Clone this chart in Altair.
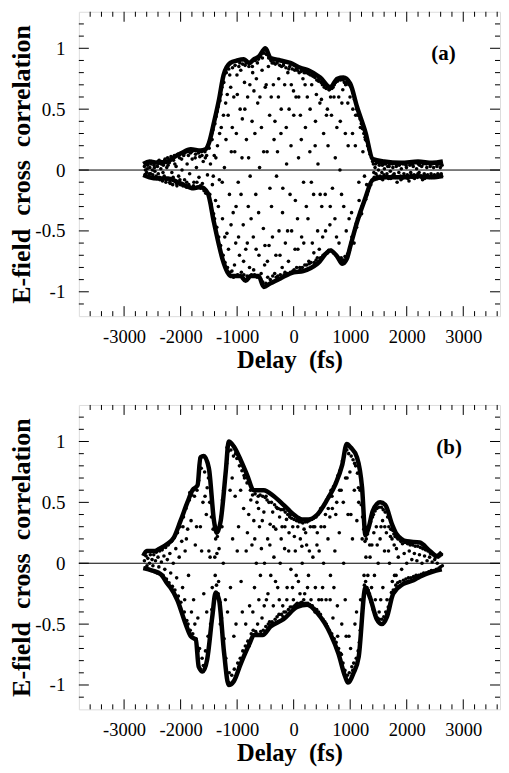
import altair as alt
import pandas as pd

# ---------------- axis ranges / ticks ----------------
X_DOMAIN = [-3800, 3650]
Y_DOMAIN = [-1.2, 1.3]
X_LABELS = [-3000, -2000, -1000, 0, 1000, 2000, 3000]
X_MINOR = [v for v in range(-3600, 3700, 200) if v % 1000 != 0]
Y_LABELS = [-1, -0.5, 0, 0.5, 1]
Y_MINOR = [-1.1, -0.9, -0.8, -0.7, -0.6, -0.4, -0.3, -0.2, -0.1,
           0.1, 0.2, 0.3, 0.4, 0.6, 0.7, 0.8, 0.9, 1.1, 1.2]

# ---------------- panel (a) envelope ----------------
UA_X = [-2660, -2550, -2400, -2230, -2100, -2000, -1820, -1650, -1560, -1500, -1410, -1320,
        -1240, -1120, -1000, -880, -790, -700, -620, -500, -410, -235, -60, 120, 260, 470,
        650, 770, 880, 1000, 1120, 1270, 1400, 1600, 1900, 2200, 2450, 2640]
UA_Y = [0.05, 0.07, 0.06, 0.07, 0.11, 0.135, 0.17, 0.16, 0.17, 0.22, 0.39, 0.58,
        0.78, 0.88, 0.9, 0.91, 0.88, 0.91, 0.93, 1.0, 0.92, 0.9, 0.88, 0.84, 0.82, 0.76,
        0.68, 0.75, 0.76, 0.71, 0.52, 0.31, 0.09, 0.07, 0.06, 0.07, 0.06, 0.07]
LA_X = [-2660, -2550, -2400, -2230, -2000, -1770, -1650, -1520, -1410, -1320, -1260, -1170,
        -1120, -940, -850, -760, -620, -530, -410, -235, 0, 170, 420, 650, 770, 860, 940,
        1000, 1120, 1260, 1400, 1600, 1900, 2200, 2450, 2640]
LA_Y = [-0.04, -0.06, -0.07, -0.07, -0.11, -0.15, -0.14, -0.19, -0.43, -0.62, -0.73, -0.84,
        -0.87, -0.87, -0.91, -0.87, -0.87, -0.96, -0.93, -0.89, -0.84, -0.83, -0.77, -0.66,
        -0.71, -0.77, -0.73, -0.63, -0.43, -0.24, -0.08, -0.06, -0.06, -0.05, -0.06, -0.05]

# ---------------- panel (a) samples ----------------
DOTS_A_LEFT = [(-2640,0.03),(-2630,-0.04),(-2615,0.06),(-2600,-0.02),(-2590,0.01),(-2575,0.05),(-2560,-0.05),(-2545,0.02),(-2530,-0.03),(-2515,0.07),(-2500,0.0),(-2485,-0.06),(-2470,0.04),(-2455,-0.01),(-2440,0.06),(-2425,-0.07),(-2410,0.03),(-2395,-0.03),(-2380,0.08),(-2365,-0.08),(-2350,0.01),(-2335,0.07),(-2320,-0.09),(-2305,0.04),(-2290,-0.05),(-2275,0.09),(-2260,-0.1),(-2245,0.02),(-2230,0.1),(-2215,-0.07),(-2200,0.06),(-2185,-0.11),(-2170,0.11),(-2155,-0.02),(-2140,-0.12),(-2125,0.08),(-2110,0.12),(-2095,-0.09),(-2080,0.03),(-2065,-0.13),(-2050,0.13),(-2035,-0.05),(-2020,0.1),(-2005,-0.12),(-1990,0.14),(-1975,0.0),(-1960,-0.13),(-1945,0.12),(-1930,-0.08),(-1915,0.15),(-1900,-0.14),(-1885,0.05),(-1870,0.15),(-1855,-0.12),(-1840,-0.03),(-1825,0.14),(-1810,-0.15),(-1795,0.09),(-1780,0.16),(-1765,-0.1),(-1750,-0.15),(-1735,0.13),(-1720,0.02),(-1705,-0.14),(-1690,0.16),(-1675,-0.06),(-1660,0.11),(-1645,-0.15),(-1630,0.15),(-1615,-0.11),(-1600,0.07),(-1585,-0.17),(-1570,0.15),(-1555,-0.19),(-1540,0.12),(-1525,-0.04)]
DOTS_A_MAIN = [(-1495,0.18),(-1484,-0.2),(-1472,0.05),(-1461,-0.28),(-1450,0.3),(-1438,-0.12),(-1427,0.33),(-1416,-0.36),(-1405,0.12),
 (-1393,0.38),(-1382,-0.25),(-1371,0.44),(-1360,-0.47),(-1348,0.2),(-1337,0.52),(-1326,-0.55),(-1315,-0.08),(-1304,0.57),
 (-1292,-0.62),(-1281,0.35),(-1270,0.68),(-1259,-0.4),(-1247,-0.7),(-1236,0.72),(-1225,0.02),(-1214,-0.76),(-1203,0.55),
 (-1192,0.8),(-1181,-0.52),(-1170,-0.8),(-1159,0.45),(-1147,0.83),(-1136,-0.2),(-1125,-0.84),(-1114,0.68),(-1103,0.15),
 (-1092,-0.83),(-1081,0.84),(-1070,-0.35),(-1059,0.6),(-1047,-0.78),(-1036,0.86),(-1025,-0.6),(-1014,0.3),(-1003,0.78),
 (-992,-0.86),(-981,-0.1),(-970,0.85),(-959,-0.7),(-947,0.5),(-936,0.82),(-925,-0.84),(-914,0.1),(-903,0.87),
 (-892,-0.45),(-881,-0.86),(-870,0.72),(-859,0.86),(-847,-0.65),(-836,0.25),(-825,-0.87),(-814,0.6),(-803,-0.3),
 (-792,0.85),(-781,-0.8),(-770,-0.05),(-759,0.88),(-747,-0.86),(-736,0.4),(-725,0.8),(-714,-0.55),(-703,0.65),
 (-692,-0.86),(-681,0.9),(-670,-0.2),(-659,0.75),(-647,-0.88),(-636,0.55),(-625,0.91),(-614,-0.7),(-603,0.02),
 (-592,0.93),(-581,-0.9),(-570,0.35),(-559,0.82),(-547,-0.92),(-536,-0.48),(-525,0.96),(-514,-0.78),(-503,0.68),
 (-492,-0.93),(-481,0.95),(-470,0.15),(-459,-0.88),(-447,0.85),(-436,-0.62),(-425,0.45),(-414,-0.9),(-403,0.9),
 (-392,-0.3),(-381,0.88),(-370,-0.87),(-359,0.7),(-347,0.25),(-336,-0.85),(-325,0.87),(-314,-0.7),(-303,-0.05),
 (-292,0.88),(-281,-0.87),(-270,0.6),(-259,-0.5),(-247,0.86),(-236,-0.86),(-225,0.3),(-214,0.85),(-203,-0.8),
 (-192,-0.15),(-181,0.86),(-170,-0.86),(-159,0.7),(-147,-0.6),(-136,0.84),(-125,0.05),(-114,-0.85),(-103,0.8),
 (-92,-0.75),(-81,0.5),(-70,0.85),(-59,-0.84),(-47,0.2),(-36,-0.5),(-25,0.83),(-14,-0.83),(-3,0.65),
 (8,-0.82),(19,0.82),(30,-0.25),(41,0.6),(53,-0.8),(64,0.82),(75,-0.65),(86,0.1),(97,0.8),
 (108,-0.8),(119,0.45),(130,0.81),(141,-0.55),(153,-0.8),(164,0.75),(175,-0.1),(186,0.8),(197,-0.78),
 (208,0.35),(219,0.8),(230,-0.78),(241,0.6),(253,-0.4),(264,0.79),(275,-0.77),(286,0.15),(297,0.78),
 (308,-0.76),(319,0.7),(330,-0.6),(341,0.77),(353,-0.2),(364,-0.76),(375,0.76),(386,0.4),(397,-0.74),
 (408,0.74),(419,-0.72),(430,0.05),(441,0.73),(453,-0.65),(464,0.55),(475,-0.72),(486,0.72),(497,-0.3),
 (508,0.7),(519,-0.7),(530,0.3),(541,0.68),(553,-0.69),(564,-0.5),(575,0.67),(586,-0.68),(597,0.5),
 (608,0.2),(619,-0.66),(630,0.66),(641,-0.45),(653,0.6),(664,-0.66),(675,0.67),(686,-0.15),(697,0.68),
 (708,-0.68),(719,0.7),(730,-0.4),(741,0.72),(753,-0.7),(764,0.35),(775,0.73),(786,-0.72),(797,0.6),
 (808,-0.73),(819,0.0),(830,0.74),(841,-0.72),(853,0.55),(864,-0.74),(875,0.74),(886,-0.3),(897,0.72),
 (908,-0.71),(919,0.7),(930,-0.5),(941,0.72),(953,-0.69),(964,0.2),(975,0.7),(986,-0.66),(997,0.6),
 (1008,-0.6),(1019,0.68),(1030,-0.55),(1041,0.3),(1053,0.63),(1064,-0.52),(1075,0.58),(1086,-0.48),(1097,0.45),
 (1108,-0.44),(1119,0.5),(1130,-0.4),(1141,0.46),(1153,-0.1),(1164,-0.38),(1175,0.42),(1186,-0.35),(1197,0.38),
 (1208,-0.3),(1219,0.34),(1230,-0.28),(1241,0.3),(1253,-0.05),(1264,0.27),(1275,-0.24),(1286,0.24),(1297,-0.2),
 (1308,0.2),(1319,-0.17),(1330,0.17),(1341,-0.14),(1353,0.13),(1364,-0.12),(1375,0.1),(1386,-0.09),(1397,0.07)]
DOTS_A_EXTRA = [(-1443,0.25),(-1422,-0.05),(-1399,-0.4),(-1376,0.1),(-1354,0.48),(-1332,-0.3),(-1310,0.3),
 (-1286,0.62),(-1264,-0.1),(-1242,0.45),(-1219,-0.55),(-1197,0.25),(-1175,0.62),(-1153,-0.65),(-1131,0.78),(-1108,-0.45),
 (-1086,0.35),(-1064,-0.88),(-1042,0.15),(-1019,-0.3),(-997,0.62),(-975,-0.55),(-953,0.88),(-931,-0.2),(-908,0.42),(-886,-0.75),(-864,0.5),(-842,0.88),(-820,-0.6),(-797,0.1),(-775,0.7),(-753,-0.4),(-731,0.85),(-708,-0.82),(-686,0.3),(-664,-0.65),(-642,0.88),(-620,-0.35),(-597,0.6),(-575,-0.85),(-553,0.92),(-531,0.15),(-508,-0.62),
 (-486,0.7),(-464,-0.75),(-442,0.92),(-420,-0.15),(-397,0.6),(-375,-0.55),(-353,0.88),(-331,0.4),(-308,-0.88),(-286,0.15),(-264,0.75),(-242,-0.7),(-220,0.5),(-197,-0.35),(-175,0.88),(-153,-0.84),(-131,0.35),(-108,-0.5),(-86,0.83),(-64,-0.2),(-42,0.7),(-20,-0.84),
 (2,0.45),(24,-0.65),(46,0.83),(68,-0.4),(90,0.6),(113,-0.82),(135,0.25),(157,0.82),(179,-0.6),(202,0.7),(224,-0.3),(246,0.8),(268,-0.75),(291,0.5),(313,-0.1),(335,0.78),(357,-0.68),(380,0.2),(402,0.62),(424,-0.5),(447,0.75),(469,-0.2),(491,0.58),
 (513,-0.55),(535,0.7),(558,-0.2),(580,0.45),(602,-0.68),(624,0.66),(647,-0.3),(669,0.45),(691,-0.67),(713,0.6),(736,0.1),(758,-0.55),(780,0.74),(802,-0.6),(825,0.4),(847,-0.2),(869,0.66),(891,-0.74),(914,0.3),(936,-0.72),(958,0.55),(980,-0.4),
 (1002,0.7),(1024,-0.35),(1047,0.5),(1069,-0.6),(1091,0.2),(1113,-0.47),(1136,0.45),(1158,-0.25),(1180,0.35),(1202,-0.36),(1225,0.15),(1247,-0.26),(1269,0.25),(1291,-0.12)]
DOTS_A_TAILS = [(-2622,0.0),(-2583,0.04),(-2552,-0.03),(-2522,0.05),(-2492,-0.04),(-2462,0.02),(-2432,-0.05),(-2402,0.07),(-2372,-0.06),(-2342,0.05),(-2312,-0.02),(-2282,0.08),(-2252,-0.08),(-2222,0.04),(-2192,-0.1),(-2162,0.1),(-2132,-0.06),(-2102,0.05),(-2072,-0.11),(-2042,0.12),(-2012,-0.08),(-1982,0.09),(-1952,-0.12),(-1922,0.14),(-1892,-0.1),(-1862,0.12),(-1832,-0.14),(-1802,0.15),(-1772,-0.13),(-1742,0.1),(-1712,-0.1),(-1682,0.14),(-1652,-0.13),(-1622,0.12),(-1592,-0.15),(-1562,0.1),
 (1418,-0.02),(1448,0.05),(1478,-0.05),(1508,0.06),(1538,-0.07),(1568,0.04),(1598,-0.04),(1628,0.05),(1658,-0.06),(1688,0.03),(1718,-0.07),(1748,0.05),(1778,-0.03),(1808,0.05),(1838,-0.06),(1868,0.04),(1898,-0.08),(1928,0.06),(1958,-0.05),(1988,0.04),(2018,-0.07),(2048,0.06),(2078,-0.04),(2108,0.05),(2138,-0.07),(2168,0.06),(2198,-0.03),(2228,0.04),(2258,-0.06),(2288,0.06),(2318,-0.07),(2348,0.05),(2378,-0.05),(2408,0.05),(2438,-0.06),(2468,0.06),(2498,-0.05),(2528,0.05),(2558,-0.04),(2588,0.05),(2618,-0.05)]
DOTS_A_RIGHT = [(1410,0.05),(1425,-0.06),(1440,0.02),(1455,-0.03),(1470,0.06),(1485,-0.07),(1500,0.0),(1515,0.04),(1530,-0.05),(1545,0.06),(1560,-0.02),(1575,-0.08),(1590,0.05),(1605,0.01),(1620,-0.06),(1635,0.06),(1650,-0.03),(1665,0.03),(1680,-0.07),(1695,0.05),(1710,-0.01),(1725,0.06),(1740,-0.05),(1755,0.02),(1770,-0.04),(1785,0.06),(1800,-0.06),(1815,0.03),(1830,-0.1),(1845,0.05),(1860,-0.02),(1875,0.06),(1890,-0.05),(1905,0.01),(1920,-0.07),(1935,0.05),(1950,-0.03),(1965,0.06),(1980,-0.06),(1995,0.02),(2010,-0.04),(2025,0.06),(2040,-0.09),(2055,0.04),(2070,-0.02),(2085,0.05),(2100,-0.06),(2115,0.03),(2130,-0.04),(2145,0.06),(2160,-0.05),(2175,0.01),(2190,-0.06),(2205,0.05),(2220,-0.02),(2235,0.06),(2250,-0.05),(2265,0.03),(2280,-0.08),(2295,0.05),(2310,-0.03),(2325,0.06),(2340,-0.05),(2355,0.02),(2370,-0.04),(2385,0.06),(2400,-0.06),(2415,0.03),(2430,-0.03),(2445,0.05),(2460,-0.05),(2475,0.02),(2490,-0.04),(2505,0.06),(2520,-0.05),(2535,0.03),(2550,-0.03),(2565,0.05),(2580,-0.05),(2595,0.02),(2610,-0.03),(2625,0.04)]

# ---------------- panel (b) envelope ----------------
UB_X = [-2660, -2600, -2450, -2410, -2230, -2120, -2000, -1880, -1790, -1700, -1650, -1590,
        -1500, -1410, -1360, -1290, -1200, -1150, -1060, -940, -820, -710, -530, -350, -180,
        0, 150, 260, 420, 590, 740, 860, 940, 1010, 1120, 1210, 1270, 1330, 1400, 1530, 1620,
        1740, 1820, 2000, 2230, 2410, 2530, 2620]
UB_Y = [0.06, 0.1, 0.1, 0.11, 0.16, 0.21, 0.35, 0.5, 0.6, 0.64, 0.87, 0.88,
        0.78, 0.35, 0.25, 0.35, 0.76, 1.0, 0.96, 0.85, 0.72, 0.6, 0.6, 0.55, 0.48,
        0.4, 0.36, 0.36, 0.4, 0.52, 0.65, 0.81, 0.98, 0.95, 0.87, 0.62, 0.23, 0.3, 0.43, 0.5, 0.48,
        0.32, 0.24, 0.18, 0.17, 0.1, 0.06, 0.09]
LB_X = [-2660, -2500, -2350, -2230, -2180, -2060, -1910, -1820, -1730, -1680, -1610, -1530,
        -1440, -1380, -1320, -1230, -1150, -1060, -940, -790, -700, -550, -410, -180, 60, 240,
        420, 650, 790, 910, 960, 1060, 1150, 1270, 1350, 1470, 1560, 1650, 1760, 1940, 2120,
        2230, 2450, 2620]
LB_Y = [-0.04, -0.06, -0.09, -0.17, -0.2, -0.3, -0.5, -0.6, -0.63, -0.85, -0.89, -0.79,
        -0.44, -0.24, -0.3, -0.74, -1.0, -0.97, -0.83, -0.67, -0.59, -0.59, -0.52, -0.46, -0.36, -0.34,
        -0.41, -0.58, -0.74, -0.93, -0.98, -0.9, -0.77, -0.2, -0.28, -0.46, -0.5, -0.44, -0.25, -0.17, -0.14,
        -0.11, -0.07, -0.05]

# ---------------- panel (b) samples ----------------
DOTS_B_LEFT = [(-2640,0.02),(-2625,-0.04),(-2610,0.06),(-2595,-0.02),(-2580,0.04),(-2565,-0.05),(-2550,0.0),(-2535,0.07),(-2520,-0.06),(-2505,0.03),(-2490,-0.02),(-2475,0.07),(-2460,-0.07),(-2445,0.02),(-2430,0.09),(-2415,-0.08),(-2400,0.05),(-2385,-0.03),(-2370,0.1),(-2355,-0.09),(-2340,0.01),(-2325,0.11),(-2310,-0.1),(-2295,0.06),(-2280,-0.05),(-2265,0.13),(-2250,-0.13),(-2235,0.03),(-2220,0.15),(-2205,-0.16),(-2190,0.08),(-2175,-0.08),(-2160,0.18),(-2145,-0.19),(-2130,0.0),(-2115,0.21),(-2100,-0.22),(-2085,0.12),(-2070,-0.12),(-2055,0.25),(-2040,-0.27),(-2025,0.05),(-2010,0.3),(-1995,-0.32),(-1980,0.18)]
DOTS_B_MAIN = [(-1965,-0.2),(-1950,0.38),(-1935,-0.4),(-1920,0.1),(-1905,0.45),(-1890,-0.47),(-1875,0.28),(-1860,-0.1),(-1845,0.52),(-1830,-0.55),(-1815,0.35),(-1800,0.56),(-1785,-0.58),(-1770,-0.3),(-1755,0.55),(-1740,0.15),(-1725,-0.62),(-1710,0.6),(-1695,-0.45),(-1680,0.68),(-1665,-0.7),(-1650,0.3),(-1635,0.78),(-1620,-0.78),(-1605,0.5),(-1590,-0.25),(-1575,0.75),(-1560,-0.72),(-1545,0.4),(-1530,0.62),(-1515,-0.6),(-1500,0.1),(-1485,0.5),(-1470,-0.5),(-1455,0.38),(-1440,-0.2),(-1425,0.28),(-1410,-0.3),(-1395,0.05),(-1380,0.2),(-1365,-0.18),(-1350,0.22),(-1335,-0.25),(-1320,0.12),(-1305,-0.32),(-1290,0.38),(-1275,-0.45),(-1260,0.52),(-1245,0.0),(-1230,-0.62),(-1215,0.7),(-1200,-0.78),(-1185,0.82),(-1170,-0.4),(-1155,0.92),(-1140,-0.9),(-1125,0.6),(-1110,0.93),(-1095,-0.92),(-1080,0.2),(-1065,0.88),(-1050,-0.87),(-1035,0.55),(-1020,-0.5),(-1005,0.86),(-990,-0.82),(-975,0.3),(-960,0.8),(-945,-0.78),(-930,-0.15),(-915,0.76),(-900,-0.72),(-885,0.45),(-870,0.7),(-855,-0.68),(-840,0.1),(-825,0.66),(-810,-0.64),(-795,0.4),(-780,-0.35),(-765,0.6),(-750,-0.58),
 (-738,0.15),(-727,0.56),(-716,-0.55),(-705,0.35),(-693,-0.2),(-682,0.57),(-671,-0.56),(-660,0.0),(-649,0.5),
 (-638,-0.5),(-627,0.55),(-616,-0.3),(-605,0.3),(-593,0.56),(-582,-0.56),(-571,0.12),(-560,-0.45),(-549,0.55),
 (-538,-0.55),(-527,0.42),(-516,0.0),(-505,0.54),(-493,-0.52),(-482,-0.3),(-471,0.52),(-460,0.2),(-449,-0.5),
 (-438,0.5),(-427,-0.48),(-416,0.32),(-405,-0.1),(-393,0.5),(-382,-0.48),(-371,0.42),(-360,-0.35),(-349,0.05),
 (-338,0.48),(-327,-0.46),(-316,0.28),(-305,0.46),(-293,-0.44),(-282,-0.2),(-271,0.45),(-260,-0.42),(-249,0.38),
 (-238,0.0),(-227,0.44),(-216,-0.42),(-205,0.3),(-193,-0.35),(-182,0.44),(-171,-0.4),(-160,0.12),(-149,0.42),
 (-138,-0.4),(-127,0.36),(-116,-0.2),(-105,0.4),(-93,-0.38),(-82,0.25),(-71,0.38),(-60,-0.36),(-49,-0.05),
 (-38,0.37),(-27,-0.36),(-16,0.3),(-5,-0.3),(7,0.36),(18,-0.35),(29,0.1),(40,-0.34),(51,0.35),
 (62,-0.33),(73,0.3),(84,-0.15),(95,0.34),(107,-0.33),(118,0.2),(129,0.34),(140,-0.32),(151,0.0),
 (162,0.33),(173,-0.33),(184,0.28),(195,-0.25),(207,0.34),(218,-0.33),(229,0.15),(240,0.34),(251,-0.33),
 (262,-0.1),(273,0.35),(284,-0.34),(295,0.3),(307,-0.3),(318,0.36),(329,-0.35),(340,0.05),(351,0.37),
 (362,-0.37),(373,0.3),(384,-0.2),(395,0.38),(407,-0.38),(418,0.25),(429,0.4),(440,-0.4),(451,0.1),
 (462,0.42),(473,-0.42),(484,0.3),(495,-0.3),(507,0.46),(518,-0.46),(529,0.0),(540,0.48),(551,-0.48),
 (562,0.4),(573,-0.3),(584,0.52),(595,-0.52),(607,0.2),(618,0.55),(629,-0.55),(640,0.38),(651,-0.1),
 (662,0.6),(673,-0.58),(684,0.45),(695,-0.45),(707,0.63),(718,-0.62),(729,0.1),(740,0.66),(751,-0.65),
 (762,0.5),(773,-0.35),(784,0.72),(795,-0.7),(807,0.25),(818,0.76),(829,-0.74),(840,0.6),(851,-0.5),
 (862,0.84),(873,-0.82),(884,0.0),(895,0.88),(907,-0.88),(918,0.7),(929,-0.6),(940,0.93),(951,-0.92),
 (962,0.4),(973,0.9),(984,-0.9),(995,0.75),(1007,-0.7),(1018,0.88),(1029,-0.85),(1040,0.2),(1051,0.85),
 (1062,-0.82),(1073,0.6),(1084,-0.5),(1095,0.8),(1107,-0.78),(1118,0.35),(1129,0.74),(1140,-0.72),(1151,0.5),
 (1162,-0.65),(1173,0.6),(1184,-0.3),(1195,0.48),(1207,-0.42),(1218,0.38),(1229,-0.3),(1240,0.28),(1251,-0.18),
 (1262,0.18),(1273,-0.15),(1284,0.2),(1295,-0.2),(1307,0.24),(1318,-0.22),(1329,0.3),(1340,-0.25),(1351,0.05),
 (1362,0.34),(1373,-0.32),(1384,0.15),(1395,0.38),(1407,-0.38),(1418,0.25),(1429,-0.1),(1440,0.43),(1451,-0.42),
 (1462,0.3),(1473,0.45),(1484,-0.45),(1495,0.0),(1507,0.46),(1518,-0.46),(1529,0.2),(1540,-0.3),(1551,0.46),
 (1562,-0.46),(1573,0.35),(1584,0.44),(1595,-0.44),(1607,0.1),(1618,0.42),(1629,-0.4),(1640,0.25),(1651,-0.3),
 (1662,0.38),(1673,-0.36),(1684,0.3),(1695,0.0),(1707,-0.3),(1718,0.28),(1729,-0.24),(1740,0.2),(1751,0.27),
 (1762,-0.22),(1773,0.24),(1784,-0.1),(1795,0.22),(1807,-0.18),(1818,0.12),(1829,0.21),(1840,-0.16),(1851,0.05)]
DOTS_B_EXTRA = [(-1958,0.3),(-1928,-0.3),(-1898,0.2),(-1868,-0.5),(-1838,0.58),(-1808,-0.4),(-1778,0.6),(-1748,-0.5),(-1718,0.3),(-1688,-0.72),(-1658,0.86),(-1628,0.1),(-1598,-0.84),(-1568,0.55),(-1538,-0.4),(-1508,0.7),(-1478,0.05),(-1448,-0.38),
 (-1388,-0.1),(-1358,0.08),(-1328,-0.15),(-1298,-0.5),(-1268,0.3),(-1238,0.6),(-1208,-0.3),(-1178,0.95),(-1148,-0.98),(-1118,-0.2),(-1088,0.7),(-1058,-0.6),(-1028,0.9),(-998,0.1),(-968,-0.85),(-938,0.6),(-908,-0.4),(-878,0.72),(-848,-0.5),(-818,0.25),(-788,-0.68),(-758,0.52),
 (-722,-0.4),(-688,0.2),(-654,-0.58),(-621,0.45),(-588,-0.1),(-555,0.35),(-521,-0.35),(-488,0.55),(-455,-0.25),(-421,0.15),(-388,-0.5),(-355,0.3),(-321,-0.15),(-288,0.45),(-255,-0.3),(-221,0.2),(-188,-0.44),(-155,0.3),(-121,-0.3),(-88,0.1),(-55,0.4),(-21,-0.2),(12,0.22),(45,-0.1),(78,0.36),(112,-0.25),(145,0.14),(178,-0.3),(212,0.25),(245,-0.2),(278,0.1),(312,-0.35),(345,0.3),(378,-0.4),(412,0.15),(445,-0.3),(478,0.45),(512,-0.2),(545,0.3),(578,-0.5),(612,0.45),(645,-0.3),(678,0.55),(712,-0.2),(745,0.4),(778,-0.6),(812,0.6),(845,-0.75),
 (878,0.5),(912,-0.3),(945,0.7),(978,-0.6),(1012,0.4),(1045,-0.88),(1078,0.82),(1112,-0.4),(1145,0.62),(1178,-0.55),(1212,0.2),(1245,-0.1),(1278,0.05),(1312,-0.1),(1345,0.15),(1378,-0.2),(1412,0.4),(1445,-0.3),(1478,0.15),(1512,-0.4),(1545,0.3),(1578,-0.2),(1612,0.3),(1645,-0.42),(1678,0.1),(1712,0.22),(1745,-0.15),(1778,0.15),(1812,-0.1),(1845,0.2)]
DOTS_B_RIGHT = [(1865,0.2),(1880,-0.15),(1895,0.18),(1910,-0.05),(1925,0.16),(1940,-0.14),(1955,0.08),(1970,0.17),(1985,-0.13),(2000,0.0),(2015,0.16),(2030,-0.12),(2045,0.1),(2060,0.15),(2075,-0.12),(2090,0.03),(2105,0.15),(2120,-0.11),(2135,0.08),(2150,0.14),(2165,-0.1),(2180,0.02),(2195,0.14),(2210,-0.1),(2225,0.07),(2240,0.13),(2255,-0.09),(2270,0.0),(2285,0.12),(2300,-0.08),(2315,0.06),(2330,0.11),(2345,-0.08),(2360,0.02),(2375,0.1),(2390,-0.07),(2405,0.05),(2420,0.08),(2435,-0.06),(2450,0.01),(2465,0.07),(2480,-0.06),(2495,0.03),(2510,0.05),(2525,-0.05),(2540,0.0),(2555,0.05),(2570,-0.04),(2585,0.06),(2600,-0.03),(2615,0.07),(2630,-0.02)]

PANEL_LABELS = ["(a)", "(b)"]
LABEL_POS = [(2650, 0.95), (2750, 0.95)]

W, H = 422, 305
SERIF = "Liberation Serif"
MAJOR, MINOR = 10, 5

xs = alt.Scale(domain=X_DOMAIN, nice=False, zero=False)
ys = alt.Scale(domain=Y_DOMAIN, nice=False, zero=False)

X_AXIS = alt.Axis(
    values=X_LABELS, ticks=False, domain=False, grid=False,
    labelExpr="'' + datum.value", labelFont=SERIF, labelFontSize=18.5,
    labelColor="black", labelPadding=11,
    title="Delay\u00a0\u00a0(fs)", titleFont=SERIF, titleFontSize=24.5,
    titleFontWeight="bold", titleColor="black", titlePadding=3)
Y_AXIS = alt.Axis(
    values=Y_LABELS, ticks=False, domain=False, grid=False,
    labelExpr="'' + datum.value", labelFont=SERIF, labelFontSize=19,
    labelColor="black", labelPadding=14,
    title="E-field\u00a0\u00a0cross\u00a0\u00a0correlation", titleFont=SERIF,
    titleFontSize=26, titleFontWeight="bold", titleColor="black", titlePadding=0)


def X(field="x"):
    return alt.X(f"{field}:Q", scale=xs, axis=X_AXIS)


def Y(field="y"):
    return alt.Y(f"{field}:Q", scale=ys, axis=Y_AXIS)


def ticks_x(values, length, top):
    df = pd.DataFrame({"x": values})
    if top:
        enc = dict(y=alt.value(0), y2=alt.value(length))
    else:
        enc = dict(y=alt.value(H), y2=alt.value(H - length))
    return alt.Chart(df).mark_rule(color="black", strokeWidth=1).encode(x=X(), **enc)


def ticks_y(values, length, right):
    df = pd.DataFrame({"y": values})
    if right:
        enc = dict(x=alt.value(W), x2=alt.value(W - length))
    else:
        enc = dict(x=alt.value(0), x2=alt.value(length))
    return alt.Chart(df).mark_rule(color="black", strokeWidth=1).encode(y=Y(), **enc)


def panel(dots, ux, uy, lx, ly, label, lpos):
    dots_df = pd.DataFrame(dots, columns=["x", "y"])
    pts = alt.Chart(dots_df).mark_circle(size=13, color="black", opacity=1).encode(x=X(), y=Y())
    zero = alt.Chart(pd.DataFrame({"y": [0]})).mark_rule(color="black", strokeWidth=1).encode(y=Y())
    up = alt.Chart(pd.DataFrame({"x": ux, "y": uy})).mark_line(
        color="black", strokeWidth=4.5, interpolate="monotone").encode(x=X(), y=Y(), order="x:Q")
    lo = alt.Chart(pd.DataFrame({"x": lx, "y": ly})).mark_line(
        color="black", strokeWidth=4.5, interpolate="monotone").encode(x=X(), y=Y(), order="x:Q")
    txt = alt.Chart(pd.DataFrame({"x": [lpos[0]], "y": [lpos[1]], "t": [label]})).mark_text(
        font=SERIF, fontSize=21, fontWeight="bold", color="black", align="center", baseline="middle"
    ).encode(x=X(), y=Y(), text="t:N")
    tk = [ticks_x(X_LABELS, MAJOR, False), ticks_x(X_MINOR, MINOR, False),
          ticks_x(X_LABELS, MAJOR, True), ticks_x(X_MINOR, MINOR, True),
          ticks_y(Y_LABELS, MAJOR, False), ticks_y(Y_MINOR, MINOR, False),
          ticks_y(Y_LABELS, MAJOR, True), ticks_y(Y_MINOR, MINOR, True)]
    return alt.layer(pts, zero, up, lo, txt, *tk).properties(width=W, height=H)


pa = panel(DOTS_A_LEFT + DOTS_A_MAIN + DOTS_A_EXTRA + DOTS_A_TAILS + DOTS_A_RIGHT,
           UA_X, UA_Y, LA_X, LA_Y, PANEL_LABELS[0], LABEL_POS[0])
pb = panel(DOTS_B_LEFT + DOTS_B_MAIN + DOTS_B_EXTRA + DOTS_B_RIGHT,
           UB_X, UB_Y, LB_X, LB_Y, PANEL_LABELS[1], LABEL_POS[1])

chart = alt.vconcat(pa, pb, spacing=31).properties(
    padding={"left": 0, "top": 2, "right": 0, "bottom": 0}
).configure_view(stroke="black", strokeWidth=1).configure(background="white")

chart.save("out.html", embed_options={"renderer": "svg", "actions": False})
